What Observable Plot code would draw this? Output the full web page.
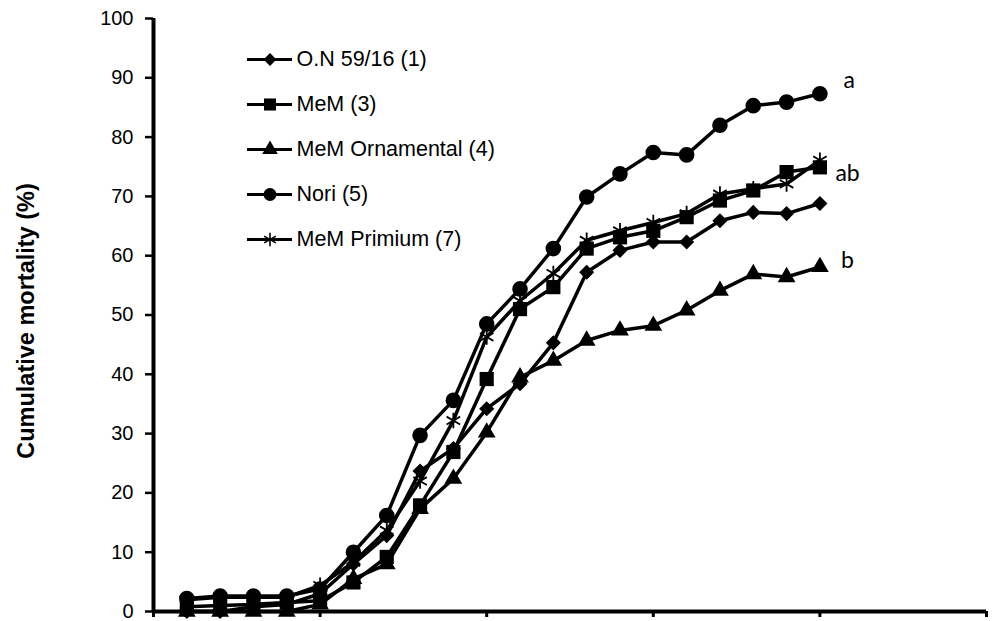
<!DOCTYPE html>
<html>
<head>
<meta charset="utf-8">
<script src="https://cdn.jsdelivr.net/npm/d3@7"></script>
<script src="https://cdn.jsdelivr.net/npm/@observablehq/plot@0.6"></script>
<style>
  html, body { margin: 0; padding: 0; background: #fff; }
  #wrap { position: relative; width: 993px; height: 621px; overflow: hidden; }
  #chart { position: absolute; left: 0; top: 0; }
  #legend { position: absolute; left: 240px; top: 0; }
</style>
</head>
<body>
<div id="wrap"><div id="chart"></div><div id="legend"></div></div>
<script>
// ---- data ----
const days = [1, 2, 3, 4, 5, 6, 7, 8, 9, 10, 11, 12, 13, 14, 15, 16, 17, 18, 19, 20];
const seriesNames = ["O.N 59/16 (1)", "MeM (3)", "MeM Ornamental (4)", "Nori (5)", "MeM Primium (7)"];
const on59 = [0, 0, 0.8, 1.2, 3.0, 8.0, 12.8, 23.7, 27.5, 34.2, 38.4, 45.3, 57.2, 60.9, 62.3, 62.3, 65.9, 67.3, 67.1, 68.8];
const mem3 = [0.8, 1.0, 1.2, 1.5, 1.8, 4.9, 9.2, 17.9, 26.9, 39.2, 51.0, 54.7, 61.2, 63.1, 64.2, 66.5, 69.3, 71.0, 74.1, 74.9];
const orn4 = [0, 0, 0, 0, 1.2, 5.5, 8.0, 17.3, 22.4, 30.2, 39.5, 42.3, 45.7, 47.4, 48.2, 50.8, 54.1, 56.9, 56.4, 58.1];
const nori5 = [2.2, 2.6, 2.6, 2.6, 3.8, 10.0, 16.2, 29.7, 35.6, 48.5, 54.4, 61.2, 69.9, 73.8, 77.4, 77.0, 82.0, 85.3, 85.9, 87.3];
const prim7 = [2.0, 2.4, 2.4, 2.4, 4.4, 8.3, 13.7, 22.0, 32.2, 46.3, 52.4, 57.0, 62.6, 64.2, 65.6, 67.1, 70.4, 71.3, 72.1, 76.1];
const xTicks = [0, 5, 10, 15, 20, 25];
const yTicks = [0, 10, 20, 30, 40, 50, 60, 70, 80, 90, 100];
const yTitle = "Cumulative mortality (%)";
const groupLetters = ["a", "ab", "b"];
const groupSeries = ["Nori (5)", "MeM (3)", "MeM Ornamental (4)"];

// ---- styling config ----
const seriesValues = [on59, mem3, orn4, nori5, prim7];
const symbolOf = ["diamond2", "square", "triangle", "circle", "asterisk"];
const rOf = [6.8, 8.0, 6.6, 7.8, 7.4];
const legendROf = [5.8, 6.8, 5.8, 6.5, 6.4];
const letterOffsets = [{dx: 23.5, dy: -12.7}, {dx: 15.5, dy: 5.8}, {dx: 21, dy: -5.9}];

const rows = seriesNames.flatMap((name, i) => days.map((d, j) => ({series: name, day: d, value: seriesValues[i][j]})));

const font = "'Liberation Sans', Arial, Helvetica, sans-serif";

const lineMarks = seriesNames.map(name =>
  Plot.line(rows.filter(r => r.series === name), {x: "day", y: "value", stroke: "black", strokeWidth: 3.5, strokeLinejoin: "round"})
);
const dotMarks = seriesNames.map((name, i) => {
  const isStroke = symbolOf[i] === "asterisk";
  return Plot.dot(rows.filter(r => r.series === name), {
    x: "day", y: "value", symbol: () => symbolOf[i], r: rOf[i],
    fill: isStroke ? "none" : "black", stroke: isStroke ? "black" : "none", strokeWidth: isStroke ? 1.8 : 0
  });
});
const letterMarks = groupLetters.map((letter, k) => {
  const idx = seriesNames.indexOf(groupSeries[k]);
  const vals = seriesValues[idx];
  const datum = {day: days[days.length - 1], value: vals[vals.length - 1], letter};
  return Plot.text([datum], {
    x: "day", y: "value", text: "letter", textAnchor: "start", lineAnchor: "middle",
    dx: letterOffsets[k].dx, dy: letterOffsets[k].dy,
    fontFamily: "Lato", fontSize: 23, fill: "black"
  });
});

const chart = Plot.plot({
  width: 993, height: 621,
  marginLeft: 153, marginRight: 7, marginTop: 18, marginBottom: 10,
  style: {fontFamily: font, background: "white", color: "black", overflow: "visible"},
  x: {domain: [0, 25]},
  y: {domain: [0, 100]},
  symbol: {type: "identity"},
  marks: [
    Plot.axisY({ticks: yTicks, tickSize: 8, tickPadding: 12, strokeWidth: 2.5, fontSize: 20, label: null}),
    Plot.axisX({ticks: xTicks, tickSize: 6, tickFormat: () => "", strokeWidth: 3, label: null}),
    Plot.ruleX([0], {strokeWidth: 4}),
    Plot.ruleY([0], {strokeWidth: 4}),
    Plot.text([yTitle], {text: d => d, frameAnchor: "left", textAnchor: "middle", lineAnchor: "middle", rotate: -90, dx: -127, dy: 6, fontWeight: "bold", fontSize: 23.5}),
    ...lineMarks,
    ...dotMarks,
    ...letterMarks
  ]
});
document.getElementById("chart").appendChild(chart);

const legend = Plot.plot({
  width: 270, height: 290, margin: 0,
  style: {fontFamily: font, background: "transparent", color: "black", overflow: "visible"},
  x: {domain: [0, 1], range: [7, 52], axis: null},
  y: {type: "point", domain: seriesNames, range: [35, 263], axis: null},
  symbol: {type: "identity"},
  marks: [
    Plot.ruleY(seriesNames, {y: d => d, x1: 0, x2: 1, strokeWidth: 3.2, stroke: "black"}),
    ...seriesNames.map((name, i) => {
      const isStroke = symbolOf[i] === "asterisk";
      return Plot.dot([name], {
        x: () => 0.5, y: d => d, symbol: () => symbolOf[i], r: legendROf[i],
        fill: isStroke ? "none" : "black", stroke: isStroke ? "black" : "none", strokeWidth: isStroke ? 1.6 : 0
      });
    }),
    Plot.text(seriesNames, {x: () => 1, y: d => d, text: d => d, dx: 4, textAnchor: "start", lineAnchor: "middle", fontSize: 21.5, fill: "black"})
  ]
});
document.getElementById("legend").appendChild(legend);
</script>
</body>
</html>
